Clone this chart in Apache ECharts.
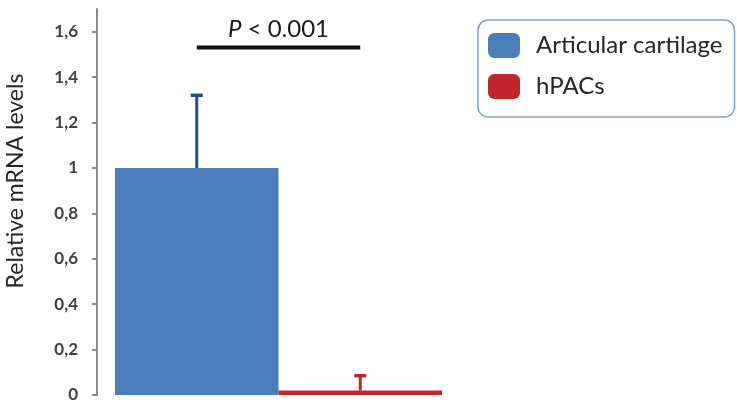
<!DOCTYPE html>
<html><head><meta charset="utf-8">
<script src="https://cdn.jsdelivr.net/npm/echarts@6/dist/echarts.min.js"></script>
<style>html,body{margin:0;padding:0;background:#fff}#c{width:737px;height:405px}</style>
</head><body><div id="c"></div>
<script>
const categories = ['Articular cartilage', 'hPACs'];
const means = [1.0, 0.02];
const errors = [0.32, 0.065];
const yTicks = [0, 0.2, 0.4, 0.6, 0.8, 1.0, 1.2, 1.4, 1.6];
const yMax = 1.7;
const sigLevel = 1.53;
const sigLabel = 'P < 0.001';
const yName = 'Relative mRNA levels';
const barColors = ['#4a7ebb', '#c0272d'];
const errColors = ['#1f5088', '#c0272d'];

const chart = echarts.init(document.getElementById('c'));
const font = 'Lato, "Open Sans", sans-serif';
chart.setOption({
  animation: false,
  textStyle: { fontFamily: font },
  grid: { left: 115, right: 295, top: 9, bottom: 10 },
  legend: {
    data: categories.map(n => ({ name: n, icon: 'roundRect' })),
    orient: 'vertical', left: 478, top: 20,
    itemWidth: 32, itemHeight: 25, itemGap: 16,
    padding: [13, 12, 18, 10],
    borderColor: '#8a9bc0', borderWidth: 1.5, borderRadius: 10,
    textStyle: { fontSize: 24, lineHeight: 25, color: '#262626', fontFamily: font, padding: [0, 0, 0, 11] }
  },
  xAxis: {
    type: 'category', data: categories,
    axisLine: { show: false }, axisTick: { show: false }, axisLabel: { show: false }
  },
  yAxis: {
    type: 'value', min: 0, max: yMax, offset: 18,
    name: yName, nameLocation: 'middle', nameGap: 70,
    nameTextStyle: { fontSize: 23, color: '#262626', fontFamily: font, padding: [0, 0, 0, 42] },
    axisLine: { show: true, lineStyle: { color: '#8c8c8c', width: 2 } },
    axisTick: { show: true, length: 5, customValues: yTicks, lineStyle: { color: '#8c8c8c', width: 2 } },
    axisLabel: {
      customValues: yTicks, margin: 19, fontSize: 17, fontWeight: 'bold', color: '#404040',
      formatter: v => (Math.round(v * 10) / 10).toString().replace('.', ',')
    },
    splitLine: { show: false }
  },
  series: [
    { name: categories[0], type: 'bar', stack: 's', barWidth: '100%',
      data: categories.map((c, i) => i === 0 ? means[i] : '-'),
      itemStyle: { color: barColors[0] } },
    { name: categories[1], type: 'bar', stack: 's', barWidth: '100%',
      data: categories.map((c, i) => i === 1 ? means[i] : '-'),
      itemStyle: { color: barColors[1] } },
    { name: 'err', type: 'custom', z: 5,
      data: categories.map((c, i) => [i, means[i], means[i] + errors[i]]),
      renderItem: (params, api) => {
        const i = api.value(0);
        const p0 = api.coord([i, api.value(1)]);
        const p1 = api.coord([i, api.value(2)]);
        const col = errColors[i];
        return { type: 'group', children: [
          { type: 'line', shape: { x1: p0[0], y1: p0[1], x2: p1[0], y2: p1[1] }, style: { stroke: col, lineWidth: 3 } },
          { type: 'line', shape: { x1: p1[0] - 6, y1: p1[1], x2: p1[0] + 6, y2: p1[1] }, style: { stroke: col, lineWidth: 3.5 } }
        ]};
      }
    },
    { name: 'sig', type: 'custom', z: 5,
      data: [[0, 1, sigLevel]],
      renderItem: (params, api) => {
        const a = api.coord([api.value(0), api.value(2)]);
        const b = api.coord([api.value(1), api.value(2)]);
        const parts = sigLabel.split(' ');
        return { type: 'group', children: [
          { type: 'line', shape: { x1: a[0], y1: a[1], x2: b[0], y2: b[1] }, style: { stroke: '#111', lineWidth: 4 } },
          { type: 'text', x: (a[0] + b[0]) / 2, y: a[1] - 6,
            style: { text: '{i|' + parts[0] + '} ' + parts.slice(1).join(' '), fontSize: 24, fontFamily: font,
              fill: '#1a1a1a', align: 'center', verticalAlign: 'bottom',
              rich: { i: { fontStyle: 'italic', fontSize: 24, fontFamily: font, fill: '#1a1a1a' } } } }
        ]};
      }
    }
  ]
});
</script></body></html>
